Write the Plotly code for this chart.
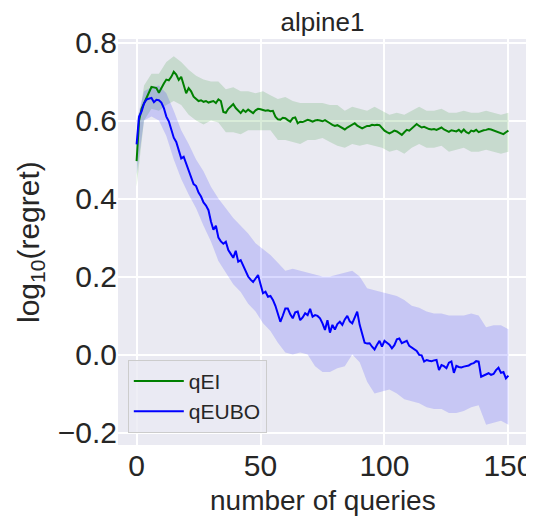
import plotly.graph_objects as go

queries = list(range(151))

qei_mean = [0.496, 0.60, 0.63, 0.645, 0.66, 0.675, 0.686, 0.685, 0.683, 0.671,
            0.684, 0.695, 0.705, 0.703, 0.712, 0.725, 0.718, 0.704, 0.712, 0.69,
            0.67, 0.683, 0.675, 0.661, 0.655, 0.65, 0.652, 0.648, 0.65, 0.646,
            0.648, 0.65, 0.645, 0.654, 0.65, 0.622, 0.62, 0.63, 0.636, 0.642,
            0.632, 0.625, 0.619, 0.627, 0.622, 0.628, 0.624, 0.619, 0.626, 0.63,
            0.629, 0.626, 0.625, 0.626, 0.624, 0.625, 0.61, 0.603, 0.602, 0.607,
            0.606, 0.601, 0.597, 0.606, 0.608, 0.593, 0.597, 0.596, 0.599, 0.602,
            0.60, 0.597, 0.60, 0.601, 0.60, 0.598, 0.601, 0.596, 0.593, 0.589,
            0.586, 0.588, 0.584, 0.58, 0.577, 0.582, 0.586, 0.59, 0.593, 0.587,
            0.583, 0.58, 0.583, 0.586, 0.586, 0.589, 0.588, 0.589, 0.588, 0.58,
            0.574, 0.57, 0.567, 0.57, 0.574, 0.572, 0.568, 0.563, 0.57, 0.576,
            0.574, 0.58, 0.586, 0.591, 0.586, 0.582, 0.584, 0.58, 0.578, 0.577,
            0.578, 0.576, 0.58, 0.582, 0.577, 0.574, 0.571, 0.575, 0.573, 0.572,
            0.576, 0.57, 0.577, 0.57, 0.567, 0.574, 0.572, 0.576, 0.57, 0.573,
            0.575, 0.576, 0.578, 0.577, 0.575, 0.572, 0.569, 0.567, 0.565, 0.57,
            0.574]

qeubo_mean = [0.539, 0.61, 0.623, 0.644, 0.654, 0.657, 0.658, 0.647, 0.653, 0.652,
              0.646, 0.632, 0.61, 0.598, 0.575, 0.556, 0.545, 0.525, 0.503, 0.507,
              0.49, 0.468, 0.455, 0.437, 0.432, 0.415, 0.405, 0.39, 0.382, 0.37,
              0.341, 0.32, 0.33, 0.30, 0.29, 0.284, 0.289, 0.268, 0.258, 0.248,
              0.266, 0.238, 0.242, 0.228, 0.21, 0.20, 0.192, 0.186, 0.195, 0.204,
              0.18, 0.157, 0.161, 0.148, 0.15, 0.14, 0.125, 0.106, 0.084, 0.10,
              0.118, 0.118, 0.103, 0.093, 0.108, 0.11, 0.088, 0.095, 0.106, 0.101,
              0.117, 0.097, 0.101, 0.099, 0.093, 0.08, 0.063, 0.088, 0.056, 0.076,
              0.064, 0.078, 0.084, 0.076, 0.09, 0.099, 0.085, 0.08, 0.095, 0.11,
              0.076, 0.05, 0.03, 0.028, 0.029, 0.02, 0.013, 0.025, 0.035, 0.02,
              0.035, 0.03, 0.025, 0.016, 0.024, 0.039, 0.041, 0.029, 0.033, 0.035,
              0.022, 0.018, 0.012, 0.009, -0.001, -0.002, -0.018, -0.014, -0.016, -0.017,
              -0.015, -0.014, -0.04, -0.027, -0.03, -0.035, -0.021, -0.018, -0.047, -0.029,
              -0.032, -0.033, -0.031, -0.03, -0.028, -0.024, -0.022, -0.017, -0.018, -0.057,
              -0.054, -0.053, -0.048, -0.052, -0.05, -0.04, -0.034, -0.047, -0.045, -0.061,
              -0.054]

band_queries = list(range(0, 151, 3))

qei_upper = [0.56, 0.69, 0.72, 0.72, 0.75, 0.765, 0.75, 0.73, 0.715, 0.705,
             0.70, 0.70, 0.68, 0.685, 0.675, 0.675, 0.67, 0.675, 0.665, 0.655,
             0.66, 0.65, 0.645, 0.645, 0.645, 0.645, 0.64, 0.64, 0.625, 0.635,
             0.63, 0.625, 0.635, 0.625, 0.615, 0.62, 0.615, 0.625, 0.635, 0.625,
             0.625, 0.63, 0.62, 0.62, 0.625, 0.62, 0.62, 0.625, 0.62, 0.615,
             0.62]
qei_lower = [0.43, 0.60, 0.63, 0.625, 0.64, 0.65, 0.64, 0.615, 0.60, 0.59,
             0.60, 0.595, 0.57, 0.57, 0.565, 0.575, 0.575, 0.575, 0.575, 0.55,
             0.55, 0.545, 0.54, 0.55, 0.55, 0.555, 0.545, 0.535, 0.53, 0.54,
             0.535, 0.54, 0.535, 0.53, 0.52, 0.525, 0.515, 0.53, 0.54, 0.53,
             0.53, 0.535, 0.52, 0.525, 0.53, 0.52, 0.52, 0.525, 0.52, 0.515,
             0.52]
qeubo_upper = [0.60, 0.675, 0.685, 0.69, 0.67, 0.625, 0.575, 0.54, 0.50, 0.47,
               0.43, 0.40, 0.375, 0.35, 0.33, 0.31, 0.285, 0.27, 0.255, 0.235,
               0.215, 0.22, 0.215, 0.21, 0.205, 0.20, 0.20, 0.205, 0.21, 0.215,
               0.20, 0.17, 0.165, 0.16, 0.155, 0.15, 0.14, 0.125, 0.12, 0.11,
               0.105, 0.105, 0.10, 0.10, 0.10, 0.105, 0.10, 0.07, 0.075, 0.075,
               0.065]
qeubo_lower = [0.46, 0.60, 0.61, 0.60, 0.56, 0.50, 0.45, 0.41, 0.375, 0.33,
               0.29, 0.24, 0.21, 0.18, 0.16, 0.13, 0.11, 0.08, 0.06, 0.03,
               0.005, 0.0, 0.005, 0.0, -0.03, -0.045, -0.045, -0.035, -0.03, 0.0,
               -0.02, -0.07, -0.10, -0.095, -0.09, -0.10, -0.115, -0.12, -0.125, -0.135,
               -0.14, -0.14, -0.15, -0.15, -0.145, -0.135, -0.13, -0.18, -0.175, -0.17,
               -0.18]

x_ticks = [0, 50, 100, 150]
y_ticks = [-0.2, 0.0, 0.2, 0.4, 0.6, 0.8]

FONT = "Liberation Sans, Arial, sans-serif"
W, H = 526, 511
L, R, T, B = 110, 7, 31, 74
PW, PH = W - L - R, H - T - B

fig = go.Figure()

def band(xs, lo, hi, color):
    fig.add_trace(go.Scatter(x=xs + xs[::-1], y=hi + lo[::-1], fill="toself",
                             fillcolor=color, line=dict(width=0), mode="lines",
                             showlegend=False, hoverinfo="skip"))

band(band_queries, qei_lower, qei_upper, "rgba(0,128,0,0.15)")
band(band_queries, qeubo_lower, qeubo_upper, "rgba(0,0,255,0.15)")

fig.add_trace(go.Scatter(x=queries, y=qei_mean, mode="lines", name="qEI",
                         line=dict(color="#008000", width=2)))
fig.add_trace(go.Scatter(x=queries, y=qeubo_mean, mode="lines", name="qEUBO",
                         line=dict(color="#0000FF", width=2)))

fig.update_layout(
    width=W, height=H,
    margin=dict(l=L, r=R, t=T, b=B, autoexpand=False),
    paper_bgcolor="white", plot_bgcolor="#EAEAF2",
    font=dict(family=FONT, color="#262626"),
    title=dict(text="alpine1", x=(L + PW / 2) / W, xanchor="center",
               y=1 - 14 / H, yanchor="middle", font=dict(size=26)),
    showlegend=True,
    legend=dict(x=0.024, y=0.03, xanchor="left", yanchor="bottom",
                bgcolor="rgba(234,234,242,0.8)", bordercolor="#CCCCCC", borderwidth=1,
                font=dict(size=21), tracegroupgap=0, itemwidth=50),
    annotations=[
        dict(text="log<sub>10</sub>(regret)", xref="paper", yref="paper",
             x=(22 - L) / PW, y=0.5, xanchor="center", yanchor="middle",
             textangle=-90, showarrow=False, font=dict(size=30)),
        dict(text="number of queries", xref="paper", yref="paper",
             x=0.5, y=-(492 - (H - B)) / PH, xanchor="center", yanchor="middle",
             showarrow=False, font=dict(size=28)),
    ],
)
fig.update_xaxes(range=[-7.5, 157.5], tickvals=x_ticks, ticks="", showline=False,
                 automargin=False,
                 gridcolor="white", gridwidth=1.5, zeroline=False,
                 tickfont=dict(size=30))
fig.update_yaxes(range=[-0.232, 0.809], tickvals=y_ticks, tickformat=".1f", ticks="",
                 automargin=False,
                 showline=False, gridcolor="white", gridwidth=1.5, zeroline=False,
                 tickfont=dict(size=30))

fig.write_html("out.html")
